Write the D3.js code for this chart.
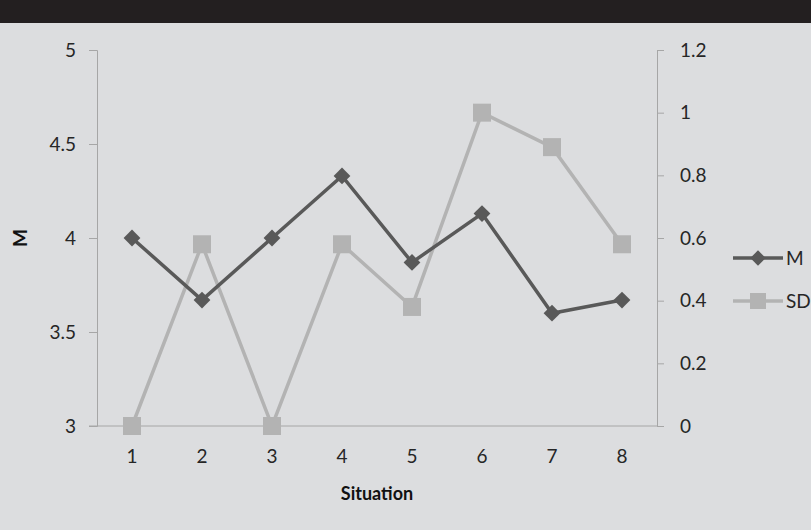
<!DOCTYPE html>
<html lang="en">
<head>
    <meta charset="UTF-8"/>
    <title>M and SD by situation</title>
    <script src="https://d3js.org/d3.v7.min.js"></script>
    <style>
        body { margin: 0; background: #dcdddf; }
        text { font-family: Lato, "Open Sans", sans-serif; }
    </style>
</head>
<body>
    <div id="chart"></div>
    <script>
        var situations = [1, 2, 3, 4, 5, 6, 7, 8];
        var mValues = [4.0, 3.67, 4.0, 4.33, 3.87, 4.13, 3.6, 3.67];
        var sdValues = [0, 0.58, 0, 0.58, 0.38, 1.0, 0.89, 0.58];
        var leftTicks = [3, 3.5, 4, 4.5, 5];
        var rightTicks = [0, 0.2, 0.4, 0.6, 0.8, 1, 1.2];

        var w = 811, h = 530;
        var plotLeft = 97, plotRight = 657, plotTop = 50, plotBottom = 426;

        var svg = d3.select("#chart").append("svg")
                    .attr("width", w).attr("height", h);

        svg.append("rect").attr("width", w).attr("height", h).attr("fill", "#dcdddf");
        svg.append("rect").attr("width", w).attr("height", 23).attr("fill", "#231f20");

        var xScale = d3.scaleBand().domain(situations).range([plotLeft, plotRight]);
        var yLeft = d3.scaleLinear().domain([3, 5]).range([plotBottom, plotTop]);
        var yRight = d3.scaleLinear().domain([0, 1.2]).range([plotBottom, plotTop]);

        function cx(d, i) { return xScale(situations[i]) + xScale.bandwidth() / 2; }

        // left axis
        var gl = svg.append("g").attr("transform", "translate(" + plotLeft + ",0)")
            .call(d3.axisLeft(yLeft).tickValues(leftTicks).tickSize(8).tickPadding(13)
                  .tickFormat(function(d) { return d; }));
        // right axis
        var gr = svg.append("g").attr("transform", "translate(" + plotRight + ",0)")
            .call(d3.axisRight(yRight).tickValues(rightTicks).tickSize(7).tickPadding(16)
                  .tickFormat(function(d) { return d; }));
        // bottom axis
        var gb = svg.append("g").attr("transform", "translate(0," + plotBottom + ")")
            .call(d3.axisBottom(xScale).tickSize(0).tickPadding(24));

        [gl, gr, gb].forEach(function(g) {
            g.select(".domain").attr("stroke", "#a6a6a6");
            g.selectAll(".tick line").attr("stroke", "#a6a6a6");
            g.selectAll(".tick text").attr("fill", "#262626").style("font-size", "19px");
        });
        gb.select(".domain").attr("d", "M" + (plotLeft - 8) + ",0H" + plotRight);

        svg.append("text").attr("x", (plotLeft + plotRight) / 2).attr("y", 500)
            .attr("text-anchor", "middle").style("font-size", "18px").style("font-weight", "bold")
            .attr("fill", "#111").text("Situation");
        svg.append("text").attr("transform", "translate(27,238) rotate(-90)")
            .attr("text-anchor", "middle").style("font-size", "19px").style("font-weight", "bold")
            .attr("fill", "#111").text("M");

        // SD series (right axis)
        var sdLine = d3.line().x(cx).y(function(d) { return yRight(d); });
        svg.append("path").datum(sdValues).attr("d", sdLine)
            .attr("fill", "none").attr("stroke", "#b3b3b3").attr("stroke-width", 3.5);
        svg.selectAll(".sd").data(sdValues).enter().append("rect")
            .attr("class", "sd")
            .attr("x", function(d, i) { return cx(d, i) - 9; })
            .attr("y", function(d) { return yRight(d) - 9; })
            .attr("width", 18).attr("height", 18).attr("fill", "#b3b3b3");

        // M series (left axis)
        var mLine = d3.line().x(cx).y(function(d) { return yLeft(d); });
        svg.append("path").datum(mValues).attr("d", mLine)
            .attr("fill", "none").attr("stroke", "#595959").attr("stroke-width", 3.5);
        var diamond = d3.symbol().type(d3.symbolDiamond2).size(180);
        svg.selectAll(".m").data(mValues).enter().append("path")
            .attr("class", "m")
            .attr("d", diamond)
            .attr("transform", function(d, i) { return "translate(" + cx(d, i) + "," + yLeft(d) + ")"; })
            .attr("fill", "#595959");

        // legend
        var legend = [
            { name: "M", color: "#595959", y: 258 },
            { name: "SD", color: "#b3b3b3", y: 301 }
        ];
        legend.forEach(function(l) {
            svg.append("line").attr("x1", 733).attr("x2", 783).attr("y1", l.y).attr("y2", l.y)
                .attr("stroke", l.color).attr("stroke-width", 3.5);
            if (l.name === "M") {
                svg.append("path").attr("d", d3.symbol().type(d3.symbolDiamond2).size(150))
                    .attr("transform", "translate(758," + l.y + ")").attr("fill", l.color);
            } else {
                svg.append("rect").attr("x", 750).attr("y", l.y - 8).attr("width", 16).attr("height", 16)
                    .attr("fill", l.color);
            }
            svg.append("text").attr("x", 786).attr("y", l.y + 7).style("font-size", "19px")
                .attr("fill", "#262626").text(l.name);
        });
    </script>
</body>
</html>
